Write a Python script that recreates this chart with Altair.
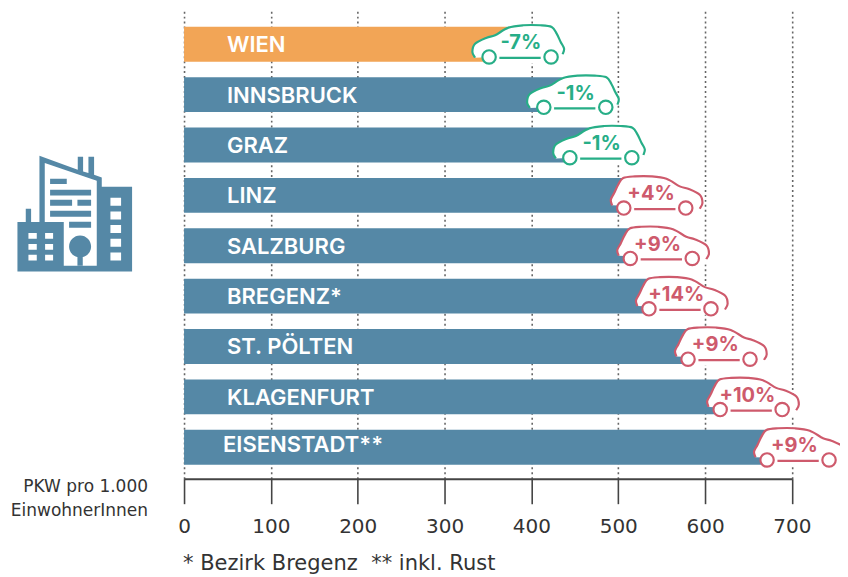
import math
import altair as alt
import pandas as pd

cities = ["WIEN", "INNSBRUCK", "GRAZ", "LINZ", "SALZBURG", "BREGENZ*", "ST. PÖLTEN", "KLAGENFURT", "EISENSTADT**"]
pkw = [372, 435, 465, 525, 535, 555, 600, 640, 690]
car_pos = [385, 448, 478, 544, 551.5, 573, 618, 655, 709]
changes = ["-7%", "-1%", "-1%", "+4%", "+9%", "+14%", "+9%", "+10%", "+9%"]
trend = ["down", "down", "down", "up", "up", "up", "up", "up", "up"]
ticks = [0, 100, 200, 300, 400, 500, 600, 700]

# A page 840 wide plus its margins is photographed slightly reduced and centred
# vertically; K and C make up for that.
K = 856 / 848
C = 3


def py(y):
    """plot-area y for a wanted picture y"""
    return (y - C) * K - 8


FONT = "Inter"
WIDE = "DejaVu Sans"
BLUE, ORANGE, GREEN, RED, INK = "#5588A6", "#F2A556", "#27AE87", "#CE5A6C", "#333333"

BODY = [(-43.3, 15.7), (-46, 10), (-43.3, 1.7), (-31.7, -4.3), (-23.3, -6.7), (-10, -14.3), (5, -16.7),
        (21.7, -16.7), (33.3, -15), (38.3, -8.3), (42.3, 0), (45.7, 6.7), (44.3, 12.3)]
WHEELS = [(-29.3, 15), (32.7, 15)]
AXLE = [(-19, 16), (22.3, 16)]
UNDER = [(-35, 12), (44, 12), (44, 21), (-35, 21)]
YOFF = -2.3
SIZE = 4 * K * K


def smooth(pts, m, close=False):
    P = [(m * x, y + YOFF) for x, y in pts]
    s = f"M{P[0][0]:.2f} {P[0][1]:.2f}"
    for i in range(len(P) - 1):
        p0, p1, p2, p3 = P[max(i - 1, 0)], P[i], P[i + 1], P[min(i + 2, len(P) - 1)]
        s += (f"C{p1[0] + (p2[0] - p0[0]) / 6:.2f} {p1[1] + (p2[1] - p0[1]) / 6:.2f} "
              f"{p2[0] - (p3[0] - p1[0]) / 6:.2f} {p2[1] - (p3[1] - p1[1]) / 6:.2f} {p2[0]:.2f} {p2[1]:.2f}")
    return s + ("Z" if close else "")


def circle(cx, cy, r):
    return f"M{cx - r:.2f} {cy:.2f}A{r} {r} 0 1 1 {cx + r:.2f} {cy:.2f}A{r} {r} 0 1 1 {cx - r:.2f} {cy:.2f}Z"


def car_paths(m):
    wheels = "".join(circle(m * x, y + YOFF, 6.7) for x, y in WHEELS)
    under = "M" + "L".join(f"{x:.2f} {y + YOFF:.2f}" for x, y in UNDER) + "Z"
    fill = smooth(BODY, m, True)
    axle = f"M{m * AXLE[0][0]:.2f} {AXLE[0][1] + YOFF:.2f}L{m * AXLE[1][0]:.2f} {AXLE[1][1] + YOFF:.2f}"
    return fill, under, wheels, smooth(BODY, m) + axle + wheels


df = pd.DataFrame(dict(city=cities, pkw=pkw, car=car_pos, change=changes, trend=trend))

XS = alt.Scale(domain=[0, 700], nice=False, zero=False)
X = alt.X("pkw:Q", scale=XS,
          axis=alt.Axis(values=ticks, title=None, grid=True, gridColor="#666666", gridDash=[2, 3], gridWidth=1.6,
                        domainColor="#444444", domainWidth=2, tickColor="#444444", tickWidth=1.6, tickSize=25 * K,
                        labelFont=WIDE, labelFontSize=20 * K, labelColor=INK, labelPadding=13 * K, labelFlush=False,
                        format="d", labelOverlap=False))
Y = alt.Y("city:N", sort=cities, axis=None,
          scale=alt.Scale(paddingInner=0.306, paddingOuter=0.298, align=0.535, round=False))

bars = alt.Chart(df).mark_bar(cornerRadius=0).encode(
    x=X, y=Y,
    color=alt.condition(alt.datum.city == "WIEN", alt.value(ORANGE), alt.value(BLUE)))

base_text = dict(font=FONT, fontSize=22 * K, fontWeight=600, color="white", align="left", baseline="middle")
labels = alt.Chart(df).transform_filter("datum.city != 'EISENSTADT**'").mark_text(**base_text, dy=1).encode(
    x=alt.value(43 * K), y=Y, text="city:N")
label_e = alt.Chart(df).transform_filter("datum.city == 'EISENSTADT**'").mark_text(**base_text, dy=-2).encode(
    x=alt.value(39 * K), y=Y, text="city:N")

layers = [bars]
for name, mirror, col, tdx in [("down", 1, GREEN, 2.5), ("up", -1, RED, -5.5)]:
    fill, under, wheels, line = car_paths(mirror)
    sub = alt.Chart(df).transform_filter(f"datum.trend == '{name}'")
    cx = alt.X("car:Q", scale=XS)
    for p in (fill, under, wheels):
        layers.append(sub.mark_point(shape=p, size=SIZE, filled=True, fill="white", opacity=1, strokeWidth=0).encode(x=cx, y=Y))
    layers += [
        sub.mark_point(shape=line, size=SIZE, filled=False, stroke=col, strokeWidth=2.2, opacity=1).encode(x=cx, y=Y),
        sub.mark_text(font=FONT, fontSize=20 * K, fontWeight=700, color=col, baseline="middle", dx=tdx, dy=-1).encode(
            x=cx, y=Y, text="change:N"),
    ]


def to_icon(pts):
    q = [((x - 224) / 3, (y - 222) / 3) for x, y in pts]
    return "M" + "L".join(f"{a:.2f} {b:.2f}" for a, b in q) + "Z"


def rect(x0, y0, x1, y1):
    return to_icon([(x0, y0), (x1, y0), (x1, y1), (x0, y1)])


sil = to_icon([(52, 395), (52, 247), (77, 247), (77, 207), (93, 207), (93, 247), (118, 247), (118, 48), (233, 90),
               (233, 51), (249, 51), (249, 95), (265, 100), (265, 51), (282, 51), (282, 105), (305, 113), (305, 141),
               (396, 141), (396, 395)])
white = to_icon([(134, 70), (290, 123), (290, 378), (191, 378), (191, 247), (134, 247)])
for x0, x1 in [(85, 110), (135, 159)]:
    for y0, y1 in [(280, 297), (313, 330), (345, 362)]:
        white += rect(x0, y0, x1, y1)
for y0, y1 in [(174, 198), (215, 239), (256, 280), (297, 321), (338, 362)]:
    white += rect(331, y0, 363, y1)
detail = "".join(rect(*r) for r in [(150, 117, 200, 133), (150, 150, 273, 167), (150, 180, 216, 198),
                                    (232, 180, 273, 198), (150, 213, 273, 231), (207, 246, 273, 264),
                                    (232, 350, 248, 378)])
detail += circle(0 + (240 - 224) / 3, (320 - 222) / 3, 11)

one = pd.DataFrame({"a": [1]})
ICON_X, ICON_Y = (74.7 - 184) * K, py(214)
for p, c in [(sil, BLUE), (white, "white"), (detail, BLUE)]:
    layers.append(alt.Chart(one).mark_point(shape=p, size=SIZE, filled=True, fill=c, opacity=1, strokeWidth=0).encode(
        x=alt.value(ICON_X), y=alt.value(ICON_Y)))

layers += [labels, label_e]

note = dict(font=WIDE, color=INK, baseline="middle")
layers += [
    alt.Chart(one).mark_text(**note, fontSize=17 * K, align="right", text="PKW pro 1.000").encode(x=alt.value((148 - 184) * K), y=alt.value(py(487))),
    alt.Chart(one).mark_text(**note, fontSize=17 * K, align="right", text="EinwohnerInnen").encode(x=alt.value((148 - 184) * K), y=alt.value(py(511))),
    alt.Chart(one).mark_text(**note, fontSize=21 * K, align="left", text="* Bezirk Bregenz\u00a0\u00a0** inkl. Rust").encode(
        x=alt.value(-1 * K), y=alt.value(py(564))),
]

W_PLOT, H_PLOT = 608 * K, py(479)
LEFT = 184 * K - 8
chart = alt.layer(*layers).resolve_scale(x="shared", y="shared").properties(
    width=W_PLOT, height=H_PLOT,
    padding={"left": LEFT, "top": 0, "right": 840 - LEFT - W_PLOT, "bottom": 568 - H_PLOT},
    autosize=alt.AutoSizeParams(type="none"),
).configure_view(stroke=None).configure_axis(labelFontWeight=400)

chart.save("out.html", embed_options={"renderer": "svg", "actions": False})
